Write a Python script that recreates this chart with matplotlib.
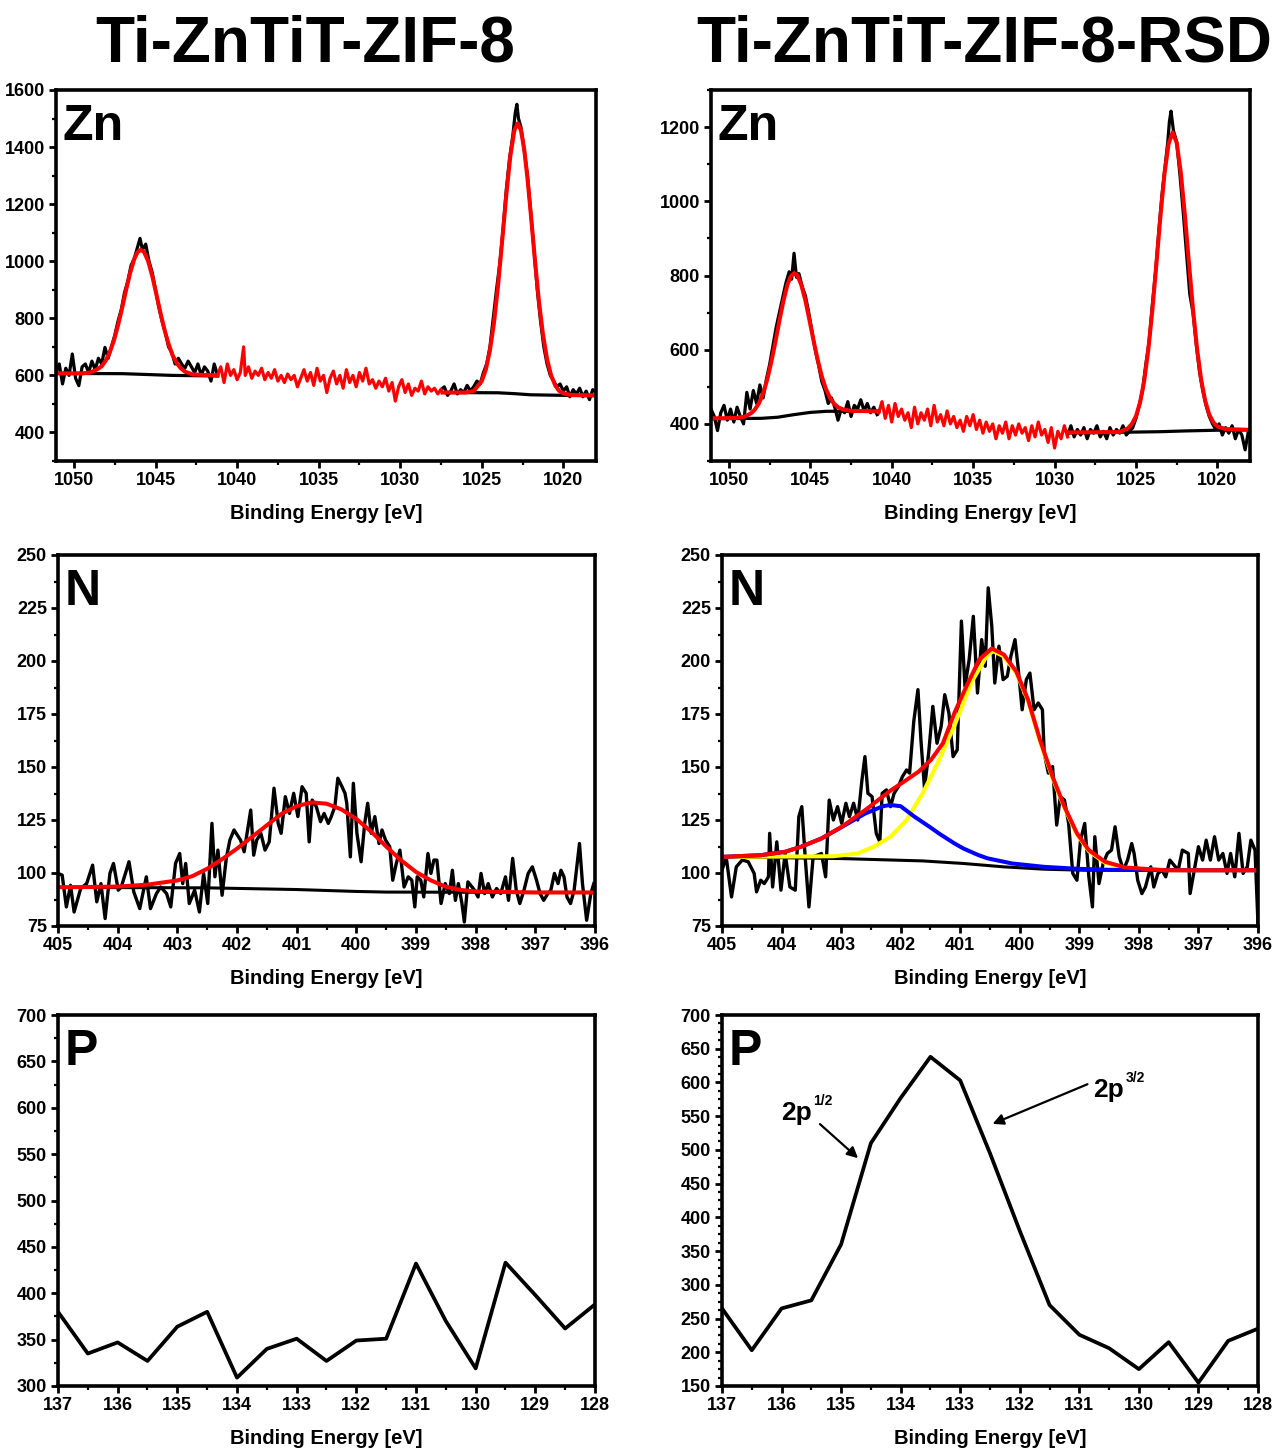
import matplotlib
matplotlib.use("Agg")
import matplotlib.pyplot as plt
from matplotlib.ticker import MultipleLocator, AutoMinorLocator

plt.rcParams['font.family'] = ['Liberation Sans', 'DejaVu Sans']
plt.rcParams['font.weight'] = 'bold'

titles = ["Ti-ZnTiT-ZIF-8", "Ti-ZnTiT-ZIF-8-RSD"]
xlabel = "Binding Energy [eV]"

# ---------------- Zn 2p, Ti-ZnTiT-ZIF-8 ----------------
zn_a_ev1 = [1051.1, 1050.9, 1050.7, 1050.5, 1050.3, 1050.1, 1049.9, 1049.7, 1049.5, 1049.3,
            1049.1, 1048.9, 1048.7, 1048.5, 1048.3, 1048.1, 1047.9, 1047.7, 1047.5, 1047.3,
            1047.1, 1046.9, 1046.7, 1046.5, 1046.3, 1046.1, 1045.95, 1045.8, 1045.6, 1045.4,
            1045.2, 1045.0, 1044.8, 1044.6, 1044.4, 1044.2, 1044.0, 1043.8, 1043.6, 1043.4,
            1043.2, 1043.0, 1042.8, 1042.6, 1042.4, 1042.2, 1042.0, 1041.8, 1041.6, 1041.4, 1041.2]
zn_a_ct1 = [610, 640, 570, 625, 600, 675, 590, 564, 630, 640,
            610, 650, 620, 660, 640, 698, 660, 700, 740, 790,
            830, 890, 930, 985, 1010, 1050, 1080, 1040, 1060, 1000,
            960, 900, 840, 790, 750, 700, 680, 640, 660, 640,
            625, 650, 630, 610, 640, 600, 630, 615, 580, 640, 600]
zn_a_ev2 = [1041.2, 1041.0, 1040.8, 1040.6, 1040.4, 1040.2, 1040.0, 1039.8, 1039.6, 1039.5,
            1039.3, 1039.1, 1038.9, 1038.7, 1038.5, 1038.3, 1038.1, 1037.9, 1037.7, 1037.5,
            1037.3, 1037.1, 1036.9, 1036.7, 1036.5, 1036.3, 1036.1, 1035.9, 1035.7, 1035.5,
            1035.3, 1035.1, 1034.9, 1034.7, 1034.5, 1034.3, 1034.1, 1033.9, 1033.7, 1033.5,
            1033.3, 1033.1, 1032.9, 1032.7, 1032.5, 1032.3, 1032.1, 1031.9, 1031.7, 1031.5,
            1031.3, 1031.1, 1030.9, 1030.7, 1030.5, 1030.3, 1030.1, 1029.9, 1029.7, 1029.5,
            1029.3, 1029.1, 1028.9, 1028.7, 1028.5, 1028.3, 1028.1, 1027.9, 1027.7, 1027.5]
zn_a_ct2 = [600, 630, 575, 640, 600, 620, 585, 610, 700, 600,
            630, 590, 615, 600, 625, 585, 610, 590, 620, 580,
            600, 575, 605, 585, 600, 560, 590, 620, 580, 610,
            565, 625, 580, 600, 540, 590, 615, 570, 600, 555,
            620, 575, 600, 560, 610, 580, 625, 570, 585, 555,
            580, 560, 590, 545, 575, 510, 560, 585, 540, 570,
            530, 555, 545, 580, 535, 560, 545, 555, 535, 550]
zn_a_ev3 = [1027.5, 1027.3, 1027.1, 1026.9, 1026.7, 1026.5, 1026.3, 1026.1, 1025.9, 1025.7,
            1025.5, 1025.3, 1025.1, 1024.9, 1024.7, 1024.5, 1024.3, 1024.1, 1023.9, 1023.7,
            1023.5, 1023.3, 1023.1, 1022.95, 1022.85, 1022.75, 1022.6, 1022.4, 1022.2, 1022.0,
            1021.8, 1021.6, 1021.4, 1021.2, 1021.0, 1020.8, 1020.6, 1020.4, 1020.2, 1020.0,
            1019.8, 1019.6, 1019.4, 1019.2, 1019.0, 1018.8, 1018.6, 1018.4, 1018.2, 1018.0]
zn_a_ct3 = [550, 560, 530, 545, 570, 535, 550, 540, 565, 545,
            560, 580, 570, 610, 640, 700, 800, 900, 990, 1110,
            1250, 1360, 1440, 1520, 1550, 1500, 1470, 1390, 1300, 1170,
            1040, 900, 790, 700, 640, 600, 580, 560, 570, 545,
            560, 525, 550, 535, 555, 525, 545, 515, 550, 540]
zn_a_fit1_ev = [1051.1, 1049.5, 1049.0, 1048.55, 1048.3, 1048.05, 1047.8, 1047.55, 1047.3, 1047.05,
                1046.8, 1046.55, 1046.3, 1046.1, 1045.9, 1045.7, 1045.45, 1045.2, 1044.95, 1044.7,
                1044.45, 1044.2, 1043.95, 1043.7, 1043.45, 1043.2, 1042.7, 1041.2]
zn_a_fit1 = [607, 607, 610, 622, 632, 652, 682, 722, 775, 835,
             900, 960, 1008, 1032, 1040, 1032, 1000, 948, 885, 820,
             760, 710, 670, 643, 625, 613, 603, 600]
zn_a_fit2_ev = [1027.4, 1026.0, 1025.5, 1025.0, 1024.75, 1024.5, 1024.25, 1024.0, 1023.75, 1023.5,
                1023.25, 1023.0, 1022.8, 1022.6, 1022.4, 1022.2, 1022.0, 1021.75, 1021.5, 1021.25,
                1021.0, 1020.75, 1020.5, 1020.25, 1020.0, 1019.5, 1018.0]
zn_a_fit2 = [540, 540, 545, 580, 621, 688, 786, 917, 1072, 1231,
             1369, 1460, 1483, 1459, 1392, 1290, 1168, 1008, 861, 743,
             657, 600, 565, 545, 537, 531, 530]
zn_a_bg1_ev = [1051.1, 1047.0, 1045.5, 1044.0, 1041.2]
zn_a_bg1 = [607, 606, 603, 600, 598]
zn_a_bg2_ev = [1027.4, 1024.0, 1023.0, 1022.0, 1020.0, 1018.0]
zn_a_bg2 = [540, 539, 536, 532, 530, 529]

# ---------------- Zn 2p, Ti-ZnTiT-ZIF-8-RSD ----------------
zn_b_ev1 = [1051.1, 1050.9, 1050.7, 1050.5, 1050.3, 1050.1, 1049.9, 1049.7, 1049.5, 1049.3,
            1049.1, 1048.9, 1048.7, 1048.5, 1048.3, 1048.1, 1047.9, 1047.7, 1047.5, 1047.3,
            1047.1, 1046.9, 1046.7, 1046.5, 1046.3, 1046.15, 1046.0, 1045.85, 1045.7, 1045.5,
            1045.3, 1045.1, 1044.9, 1044.7, 1044.5, 1044.3, 1044.1, 1043.9, 1043.7, 1043.5,
            1043.3, 1043.1, 1042.9, 1042.7, 1042.5, 1042.3, 1042.1, 1041.9, 1041.7, 1041.5,
            1041.3, 1041.1, 1040.9]
zn_b_ct1 = [440, 420, 382, 430, 450, 410, 440, 405, 445, 420,
            400, 485, 440, 490, 455, 505, 470, 520, 560, 610,
            660, 700, 740, 780, 810, 790, 860, 795, 805, 770,
            745, 700, 650, 600, 560, 515, 490, 455, 470, 445,
            410, 440, 430, 460, 420, 450, 440, 465, 435, 455,
            430, 445, 425]
zn_b_ev2 = [1040.8, 1040.6, 1040.4, 1040.2, 1040.0, 1039.8, 1039.6, 1039.4, 1039.2, 1039.0,
            1038.8, 1038.6, 1038.4, 1038.2, 1038.0, 1037.8, 1037.6, 1037.4, 1037.2, 1037.0,
            1036.8, 1036.6, 1036.4, 1036.2, 1036.0, 1035.8, 1035.6, 1035.4, 1035.2, 1035.0,
            1034.8, 1034.6, 1034.4, 1034.2, 1034.0, 1033.8, 1033.6, 1033.4, 1033.2, 1033.0,
            1032.8, 1032.6, 1032.4, 1032.2, 1032.0, 1031.8, 1031.6, 1031.4, 1031.2, 1031.0,
            1030.8, 1030.6, 1030.4, 1030.2, 1030.0, 1029.8, 1029.6, 1029.4, 1029.2]
zn_b_ct2 = [430, 460, 415, 450, 405, 455, 420, 440, 410, 430,
            390, 445, 400, 430, 410, 440, 395, 450, 405, 425,
            395, 435, 400, 420, 390, 410, 380, 420, 395, 425,
            385, 410, 375, 405, 380, 400, 360, 395, 375, 405,
            360, 395, 370, 400, 375, 390, 355, 395, 365, 405,
            370, 385, 350, 390, 335, 380, 360, 395, 365]
zn_b_ev3 = [1029.2, 1029.0, 1028.8, 1028.6, 1028.4, 1028.2, 1028.0, 1027.8, 1027.6, 1027.4,
            1027.2, 1027.0, 1026.8, 1026.6, 1026.4, 1026.2, 1026.0, 1025.8, 1025.6, 1025.4,
            1025.2, 1025.0, 1024.8, 1024.6, 1024.4, 1024.2, 1024.0, 1023.8, 1023.6, 1023.4,
            1023.2, 1023.05, 1022.95, 1022.85, 1022.7, 1022.5, 1022.3, 1022.1, 1021.9, 1021.7,
            1021.5, 1021.3, 1021.1, 1020.9, 1020.7, 1020.5, 1020.3, 1020.1, 1019.9, 1019.7,
            1019.5, 1019.3, 1019.1, 1018.9, 1018.7, 1018.5, 1018.3, 1018.1, 1018.0]
zn_b_ct3 = [370, 395, 365, 385, 370, 390, 360, 385, 375, 395,
            365, 380, 360, 390, 370, 385, 375, 395, 370, 380,
            390, 415, 450, 490, 560, 620, 720, 810, 920, 1020,
            1100, 1160, 1215, 1243, 1190, 1160, 1070, 970, 860, 750,
            700, 615, 540, 490, 450, 420, 400, 385, 400, 370,
            390, 375, 395, 360, 385, 370, 330, 380, 365]
zn_b_fit1_ev = [1051.1, 1049.5, 1049.0, 1048.6, 1048.4, 1048.15, 1047.9, 1047.65, 1047.4, 1047.15,
                1046.9, 1046.65, 1046.4, 1046.2, 1046.0, 1045.8, 1045.55, 1045.3, 1045.05, 1044.8,
                1044.55, 1044.3, 1044.05, 1043.8, 1043.55, 1043.3, 1043.0, 1042.5, 1040.8]
zn_b_fit1 = [415, 416, 420, 430, 439, 456, 482, 519, 566, 620,
             678, 732, 776, 798, 806, 801, 774, 732, 679, 624,
             573, 529, 495, 471, 455, 445, 439, 435, 434]
zn_b_fit2_ev = [1029.1, 1026.0, 1025.5, 1025.25, 1025.0, 1024.75, 1024.5, 1024.25, 1024.0, 1023.75,
                1023.5, 1023.25, 1023.0, 1022.75, 1022.5, 1022.25, 1022.0, 1021.75, 1021.5, 1021.25,
                1021.0, 1020.75, 1020.5, 1020.25, 1020.0, 1019.5, 1018.0]
zn_b_fit2 = [377, 378, 388, 400, 421, 458, 515, 598, 705, 830,
             960, 1075, 1155, 1186, 1157, 1078, 963, 834, 709, 602,
             519, 462, 425, 404, 393, 386, 384]
zn_b_bg1_ev = [1051.1, 1048.0, 1047.0, 1046.0, 1045.0, 1044.0, 1040.8]
zn_b_bg1 = [414, 415, 418, 425, 431, 434, 434]
zn_b_bg2_ev = [1029.1, 1025.0, 1023.5, 1022.0, 1020.0, 1018.0]
zn_b_bg2 = [376, 378, 379, 381, 383, 384]

# ---------------- N 1s, Ti-ZnTiT-ZIF-8 ----------------
n_a_ev = [405.00, 404.93, 404.86, 404.79, 404.73, 404.62, 404.52, 404.42, 404.35, 404.28,
          404.21, 404.13, 404.07, 403.99, 403.94, 403.87, 403.81, 403.73, 403.63, 403.52,
          403.45, 403.35, 403.28, 403.18, 403.11, 403.03, 402.96, 402.91, 402.86, 402.80,
          402.71, 402.63, 402.56, 402.49, 402.42, 402.37, 402.32, 402.25, 402.18, 402.12,
          402.05, 401.94, 401.88, 401.77, 401.72, 401.67, 401.60, 401.53, 401.46, 401.38,
          401.31, 401.26, 401.19, 401.12, 401.05, 400.98, 400.91, 400.84, 400.79, 400.74,
          400.67, 400.60, 400.54, 400.47, 400.42, 400.36, 400.31, 400.24, 400.19, 400.16,
          400.10, 400.05, 399.99, 399.92, 399.86, 399.81, 399.75, 399.69, 399.62, 399.57,
          399.51, 399.44, 399.39, 399.33, 399.27, 399.20, 399.13, 399.07, 399.02, 398.98,
          398.92, 398.87, 398.80, 398.75, 398.70, 398.65, 398.58, 398.51, 398.44, 398.39,
          398.34, 398.29, 398.23, 398.19, 398.13, 398.06, 398.02, 397.96, 397.91, 397.85,
          397.79, 397.72, 397.65, 397.58, 397.50, 397.45, 397.38, 397.32, 397.26, 397.19,
          397.12, 397.05, 396.98, 396.92, 396.86, 396.79, 396.74, 396.68, 396.62, 396.57,
          396.52, 396.47, 396.41, 396.35, 396.26, 396.21, 396.14, 396.07, 396.02]
n_a_ct = [99.8, 99.0, 84.0, 94.2, 81.6, 92.7, 95.0, 103.7, 86.4, 95.0,
          78.5, 99.8, 104.5, 91.9, 93.4, 99.8, 105.3, 91.1, 83.2, 98.2,
          83.2, 90.3, 93.4, 90.3, 84.0, 104.5, 109.2, 95.0, 104.5, 85.6,
          91.9, 81.6, 99.8, 85.6, 123.4, 98.2, 110.8, 89.5, 106.9, 115.5,
          120.3, 115.5, 110.0, 129.7, 108.4, 115.5, 118.7, 110.8, 114.7, 140.0,
          123.4, 118.7, 136.0, 128.1, 137.6, 126.6, 140.7, 137.6, 114.7, 134.4,
          131.3, 124.2, 128.1, 123.4, 126.6, 131.3, 144.7, 140.7, 137.6, 132.9,
          107.6, 142.3, 118.7, 105.3, 123.4, 132.9, 118.7, 126.6, 113.9, 120.3,
          115.5, 112.4, 96.6, 104.5, 110.8, 93.4, 98.2, 96.6, 84.0, 98.2,
          96.6, 88.7, 109.2, 99.8, 106.1, 106.1, 85.6, 95.0, 90.3, 101.3,
          87.1, 95.0, 85.6, 76.9, 95.8, 93.4, 91.9, 88.7, 99.8, 90.3,
          95.0, 88.7, 92.7, 90.3, 98.2, 87.1, 106.9, 91.9, 85.6, 91.9,
          99.8, 102.9, 96.6, 90.3, 87.1, 90.3, 91.9, 99.8, 95.0, 101.3,
          98.2, 88.7, 85.6, 91.9, 113.9, 95.0, 77.7, 90.3, 95.0]
n_a_fit_ev = [405.0, 404.5, 404.0, 403.5, 403.0, 402.75, 402.5, 402.25, 402.0, 401.75,
              401.5, 401.25, 401.0, 400.75, 400.5, 400.25, 400.0, 399.75, 399.5, 399.25,
              399.0, 398.75, 398.5, 398.25, 398.0, 397.0, 396.0]
n_a_fit = [93.3, 93.4, 93.6, 94.5, 96.5, 98.5, 102.0, 106.5, 111.5, 117.0,
           122.5, 128.0, 131.5, 133.3, 132.7, 130.0, 125.5, 119.5, 112.5, 106.0,
           100.5, 96.5, 93.5, 92.0, 91.3, 90.8, 90.8]
n_a_bg_ev = [405.0, 402.5, 401.0, 400.0, 399.5, 396.0]
n_a_bg = [93.2, 93.0, 92.2, 91.3, 91.0, 90.8]

# ---------------- N 1s, Ti-ZnTiT-ZIF-8-RSD ----------------
n_b_ev = [405.00, 404.93, 404.84, 404.76, 404.66, 404.56, 404.46, 404.42, 404.35, 404.29,
          404.22, 404.20, 404.15, 404.08, 404.01, 403.94, 403.86, 403.77, 403.71, 403.66,
          403.60, 403.54, 403.47, 403.40, 403.33, 403.26, 403.20, 403.13, 403.06, 402.99,
          402.92, 402.86, 402.79, 402.72, 402.65, 402.60, 402.55, 402.48, 402.41, 402.35,
          402.31, 402.24, 402.17, 402.11, 402.04, 401.97, 401.90, 401.85, 401.78, 401.71,
          401.66, 401.60, 401.53, 401.46, 401.39, 401.32, 401.26, 401.19, 401.12, 401.05,
          400.98, 400.92, 400.85, 400.78, 400.71, 400.64, 400.58, 400.53, 400.47, 400.42,
          400.35, 400.28, 400.21, 400.15, 400.08, 400.03, 399.96, 399.89, 399.83, 399.76,
          399.69, 399.62, 399.59, 399.52, 399.45, 399.38, 399.32, 399.25, 399.18, 399.11,
          399.04, 398.98, 398.91, 398.84, 398.78, 398.74, 398.67, 398.60, 398.53, 398.46,
          398.40, 398.33, 398.26, 398.19, 398.12, 398.08, 398.02, 397.95, 397.89, 397.80,
          397.75, 397.68, 397.61, 397.55, 397.48, 397.41, 397.34, 397.27, 397.17, 397.14,
          397.07, 397.00, 396.93, 396.87, 396.80, 396.73, 396.66, 396.59, 396.52, 396.46,
          396.39, 396.32, 396.25, 396.18, 396.12, 396.05, 396.00]
n_b_ct = [101.3, 107.6, 88.7, 102.9, 106.1, 105.3, 99.8, 91.1, 96.6, 95.0,
          98.2, 118.7, 93.4, 114.7, 91.9, 109.2, 93.4, 91.9, 126.6, 131.3,
          106.1, 84.0, 107.6, 108.4, 109.2, 98.2, 134.4, 125.0, 131.3, 123.4,
          132.9, 126.6, 132.9, 125.0, 143.9, 154.9, 137.6, 136.0, 118.7, 114.7,
          137.6, 139.2, 131.3, 137.6, 140.7, 145.5, 148.6, 147.1, 171.5, 186.5,
          162.8, 140.0, 156.5, 178.6, 161.2, 169.1, 184.1, 175.4, 154.9, 158.1,
          218.8, 188.0, 200.6, 221.1, 184.9, 210.1, 197.5, 234.5, 216.4, 189.6,
          207.0, 191.2, 192.8, 202.2, 210.1, 197.5, 177.0, 191.2, 194.3, 177.0,
          180.2, 177.0, 156.5, 147.1, 150.2, 122.6, 136.0, 134.4, 123.4, 99.8,
          96.6, 115.5, 123.4, 98.2, 84.0, 117.1, 95.0, 104.5, 109.2, 110.8,
          121.8, 107.6, 101.3, 106.1, 113.9, 109.2, 96.6, 90.3, 93.4, 102.9,
          93.4, 99.8, 101.3, 98.2, 106.1, 103.7, 101.3, 110.8, 109.2, 90.3,
          101.3, 112.4, 106.1, 115.5, 106.1, 117.1, 106.1, 109.2, 99.8, 109.2,
          98.2, 118.7, 99.8, 102.9, 115.5, 110.8, 76.0]
n_b_fit_ev = [405.0, 404.35, 403.94, 403.67, 403.33, 402.99, 402.58, 402.17, 401.97, 401.7,
              401.49, 401.29, 401.09, 400.88, 400.68, 400.47, 400.27, 400.06, 399.86, 399.66,
              399.45, 399.25, 399.04, 398.84, 398.57, 398.23, 397.55, 396.0]
n_b_fit = [107.6, 108.4, 110.0, 112.4, 116.3, 121.8, 130.0, 138.9, 142.6, 147.8,
           153.4, 161.2, 176.0, 189.0, 200.7, 205.9, 203.1, 195.1, 181.7, 162.8,
           145.5, 131.3, 118.7, 110.8, 105.3, 102.6, 101.3, 101.3]
n_b_c1_ev = [405.0, 403.13, 402.72, 402.45, 402.17, 401.9, 401.63, 401.36, 401.09, 400.81,
             400.54, 400.44, 400.27, 400.06, 399.86, 399.66, 399.45, 399.25, 399.04, 398.84,
             398.57, 398.23, 397.55, 396.0]
n_b_c1 = [107.6, 107.9, 109.2, 112.4, 117.1, 125.0, 137.6, 153.0, 170.0, 190.0,
          203.0, 204.6, 202.2, 194.5, 181.0, 162.0, 144.8, 130.7, 118.2, 110.3,
          104.8, 102.3, 101.3, 101.3]
n_b_c2_ev = [405.0, 404.35, 403.94, 403.67, 403.33, 403.0, 402.6, 402.3, 402.17, 402.0,
             401.77, 401.5, 401.36, 401.1, 400.95, 400.7, 400.54, 400.13, 399.59, 399.04,
             398.5, 397.0, 396.0]
n_b_c2 = [107.6, 108.4, 110.0, 112.4, 116.3, 121.5, 128.0, 131.5, 132.1, 131.5,
          126.6, 121.5, 118.7, 114.0, 111.6, 108.5, 106.9, 104.5, 102.9, 102.0,
          101.5, 101.3, 101.3]
n_b_bg_ev = [405.0, 402.99, 401.63, 400.95, 400.27, 399.59, 398.91, 396.0]
n_b_bg = [107.6, 106.8, 105.7, 104.5, 102.9, 101.8, 101.3, 101.3]

# ---------------- P 2p ----------------
p_ev = [137.0, 136.5, 136.0, 135.5, 135.0, 134.5, 134.0, 133.5, 133.0, 132.5,
        132.0, 131.5, 131.0, 130.5, 130.0, 129.5, 129.0, 128.5, 128.0]
p_a = [380, 335, 347, 327, 364, 380, 309, 340, 351, 327,
       349, 351, 432, 370, 319, 433, 398, 362, 388]
p_b = [265, 203, 265, 277, 360, 510, 577, 638, 603, 495,
       380, 270, 226, 206, 175, 215, 155, 217, 235]

W, H = 1275, 1448
fig = plt.figure(figsize=(W / 100, H / 100), dpi=100)


def box(l, r, t, b):
    return [l / W, 1 - b / H, (r - l) / W, (b - t) / H]


def style(ax, xlim, ylim, xmaj, xmin, ymaj, ymin_n, tag):
    ax.set_xlim(*xlim)
    ax.set_ylim(*ylim)
    ax.xaxis.set_major_locator(MultipleLocator(xmaj))
    ax.xaxis.set_minor_locator(MultipleLocator(xmin))
    ax.yaxis.set_major_locator(MultipleLocator(ymaj))
    ax.yaxis.set_minor_locator(AutoMinorLocator(ymin_n))
    for s in ax.spines.values():
        s.set_linewidth(2.6)
    ax.tick_params(which='major', direction='out', length=5, width=2.0,
                   labelsize=13, pad=3)
    ax.tick_params(which='minor', direction='out', length=3, width=1.6)
    for lab in ax.get_xticklabels() + ax.get_yticklabels():
        lab.set_fontweight('bold')
    ax.set_xlabel(xlabel, fontsize=14.5, fontweight='bold', labelpad=11)
    ax.annotate(tag, xy=(0, 1), xycoords='axes fraction', xytext=(5, -10),
                textcoords='offset points', ha='left', va='top',
                fontsize=36, fontweight='bold')


raw_lw, fit_lw = 2.3, 2.9

# Zn left
ax = fig.add_axes(box(56, 596, 90, 461))
ax.plot(zn_a_ev1, zn_a_ct1, color='black', lw=raw_lw)
ax.plot(zn_a_ev3, zn_a_ct3, color='black', lw=raw_lw)
ax.plot(zn_a_ev2, zn_a_ct2, color='red', lw=raw_lw)
ax.plot(zn_a_bg1_ev, zn_a_bg1, color='black', lw=raw_lw)
ax.plot(zn_a_bg2_ev, zn_a_bg2, color='black', lw=raw_lw)
ax.plot(zn_a_fit1_ev, zn_a_fit1, color='red', lw=fit_lw)
ax.plot(zn_a_fit2_ev, zn_a_fit2, color='red', lw=fit_lw)
style(ax, (1051.1, 1018), (300, 1600), 5, 2.5, 200, 2, 'Zn')

# Zn right
ax = fig.add_axes(box(711, 1250, 90, 461))
ax.plot(zn_b_ev1, zn_b_ct1, color='black', lw=raw_lw)
ax.plot(zn_b_ev3, zn_b_ct3, color='black', lw=raw_lw)
ax.plot(zn_b_ev2, zn_b_ct2, color='red', lw=raw_lw)
ax.plot(zn_b_bg1_ev, zn_b_bg1, color='black', lw=raw_lw)
ax.plot(zn_b_bg2_ev, zn_b_bg2, color='black', lw=raw_lw)
ax.plot(zn_b_fit1_ev, zn_b_fit1, color='red', lw=fit_lw)
ax.plot(zn_b_fit2_ev, zn_b_fit2, color='red', lw=fit_lw)
style(ax, (1051.1, 1018), (300, 1300), 5, 2.5, 200, 2, 'Zn')

# N left
ax = fig.add_axes(box(58, 595, 555, 926))
ax.plot(n_a_ev, n_a_ct, color='black', lw=2.4)
ax.plot(n_a_bg_ev, n_a_bg, color='black', lw=2.2)
ax.plot(n_a_fit_ev, n_a_fit, color='red', lw=fit_lw)
style(ax, (405, 396), (75, 250), 1, 0.5, 25, 2, 'N')

# N right
ax = fig.add_axes(box(722, 1258, 555, 926))
ax.plot(n_b_ev, n_b_ct, color='black', lw=2.4)
ax.plot(n_b_bg_ev, n_b_bg, color='black', lw=2.2)
ax.plot(n_b_c1_ev, n_b_c1, color='yellow', lw=fit_lw)
ax.plot(n_b_c2_ev, n_b_c2, color='blue', lw=fit_lw)
ax.plot(n_b_fit_ev, n_b_fit, color='red', lw=fit_lw)
style(ax, (405, 396), (75, 250), 1, 0.5, 25, 2, 'N')

# P left
ax = fig.add_axes(box(58, 595, 1015, 1386))
ax.plot(p_ev, p_a, color='black', lw=2.7)
style(ax, (137, 128), (300, 700), 1, 0.5, 50, 2, 'P')

# P right
ax = fig.add_axes(box(722, 1258, 1015, 1386))
ax.plot(p_ev, p_b, color='black', lw=2.7)
style(ax, (137, 128), (150, 700), 1, 0.5, 50, 4, 'P')
arrow = dict(arrowstyle='-|>', color='black', lw=1.6, mutation_scale=16)
ax.annotate('', xy=(134.68, 485), xytext=(135.39, 541), arrowprops=arrow)
ax.annotate('', xy=(132.5, 537), xytext=(130.82, 599), arrowprops=arrow)
ax.text(136.01, 544, '2p', fontsize=19, fontweight='bold', ha='left', va='baseline')
ax.text(135.47, 567, '1/2', fontsize=10, fontweight='bold', ha='left', va='baseline')
ax.text(130.77, 578, '2p', fontsize=19, fontweight='bold', ha='left', va='baseline')
ax.text(130.22, 601, '3/2', fontsize=10, fontweight='bold', ha='left', va='baseline')

fig.text(305 / W, 1 - 62 / H, titles[0], fontsize=46, fontweight='bold',
         ha='center', va='baseline')
fig.text(984 / W, 1 - 62 / H, titles[1], fontsize=46, fontweight='bold',
         ha='center', va='baseline')

fig.savefig('out.png', dpi=100)
